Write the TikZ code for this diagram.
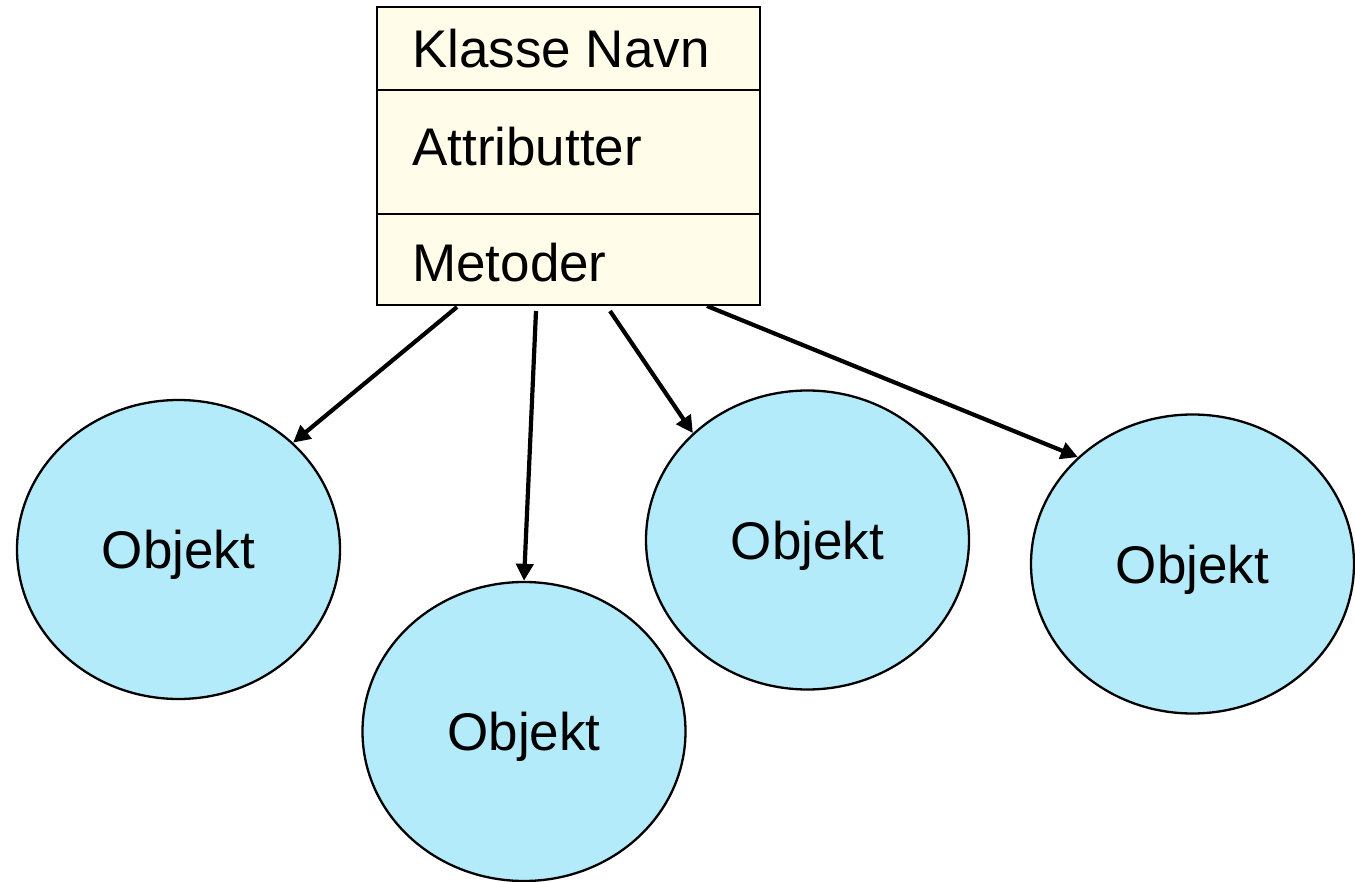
\documentclass[tikz,border=0pt]{standalone}
\usepackage{fontspec}
\setmainfont{Liberation Sans}
\usetikzlibrary{arrows.meta,calc,shapes.geometric}
\definecolor{boxfill}{HTML}{FFFDE9}
\definecolor{objfill}{HTML}{B4EBFB}
\tikzset{
  classbox/.style={draw=black, line width=2.4pt, fill=boxfill, rectangle, inner sep=0pt,
    minimum width=383pt, minimum height=298pt},
  divider/.style={draw=black, line width=1.6pt},
  lbl/.style={anchor=base west, inner sep=0pt, font=\fontsize{53}{60}\selectfont},
  obj/.style={draw=black, line width=2.3pt, fill=objfill, ellipse, inner sep=0pt,
    minimum width=323pt, minimum height=299pt, text depth=0pt,
    font=\fontsize{53}{60}\selectfont},
  arr/.style={line width=4.2pt, -{Triangle[length=17pt,width=17pt]}, shorten >=0pt}
}
\begin{document}
\begin{tikzpicture}[x=1pt,y=-1pt]
\useasboundingbox (0,0) rectangle (1355,882);
\node[classbox] (cls) at (568.5,156) {};
\draw[divider] ($(cls.north west)+(0,84)$) -- ($(cls.north east)+(0,84)$);
\draw[divider] ($(cls.north west)+(0,208)$) -- ($(cls.north east)+(0,208)$);
\node[lbl] (name) at (412,68) {Klasse Navn};
\node[lbl] (attr) at (412,166) {Attributter};
\node[lbl] (meth) at (412,282) {Metoder};
\node[obj] (e1) at (178.5,549.5) {Objekt};
\node[obj] (e2) at (524,731.5) {Objekt};
\node[obj] (e3) at (807.5,540) {Objekt};
\node[obj] (e4) at (1192.5,564) {Objekt};
\coordinate (a1) at (457,307);
\coordinate (a2) at (536,311);
\coordinate (a3) at (610,311);
\coordinate (a4) at (707,306);
\draw[arr] (a1) -- (e1.43);
\draw[arr] (a2) -- (e2.90.4);
\draw[arr] (a3) -- (e3.137);
\draw[arr] (a4) -- (e4.137.5);
\end{tikzpicture}
\end{document}
